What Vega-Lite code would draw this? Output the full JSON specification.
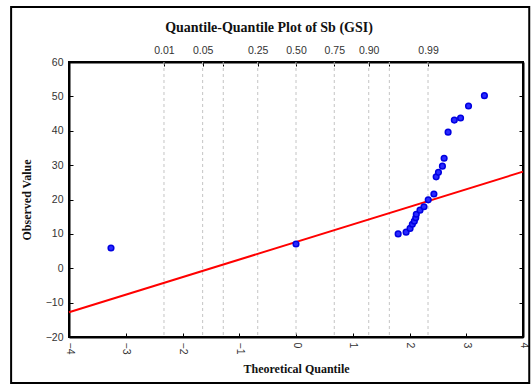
{
  "$schema": "https://vega.github.io/schema/vega-lite/v6.json",
  "autosize": "none",
  "width": 454,
  "height": 275,
  "padding": {"left": 69, "top": 62, "right": 8, "bottom": 48},
  "background": "white",
  "title": {
    "text": "Quantile-Quantile Plot of Sb (GSI)",
    "font": "Liberation Serif",
    "fontSize": 14,
    "fontWeight": "bold",
    "color": "#111",
    "dx": -27,
    "offset": -29
  },
  "config": {
    "view": {"stroke": "black", "strokeWidth": 2},
    "axis": {
      "labelFont": "Liberation Sans",
      "labelFontSize": 10.5,
      "labelColor": "#333",
      "titleFont": "Liberation Serif",
      "titleFontSize": 12,
      "titleFontWeight": "bold",
      "titleColor": "#111",
      "tickColor": "black",
      "domainColor": "black",
      "domainWidth": 2,
      "grid": false
    }
  },
  "resolve": {"axis": {"x": "independent", "y": "independent"}},
  "layer": [
    {
      "data": {"values": [
        {"q": -2.3263, "p": "0.01"},
        {"q": -1.6449, "p": "0.05"},
        {"q": -1.2816, "p": "0.10"},
        {"q": -0.6745, "p": "0.25"},
        {"q": 0, "p": "0.50"},
        {"q": 0.6745, "p": "0.75"},
        {"q": 1.2816, "p": "0.90"},
        {"q": 1.6449, "p": "0.95"},
        {"q": 2.3263, "p": "0.99"}
      ]},
      "mark": {"type": "rule", "color": "#c4c4c4", "strokeWidth": 1, "strokeDash": [3, 3]},
      "encoding": {
        "x": {
          "field": "q", "type": "quantitative",
          "scale": {"domain": [-4, 4], "nice": false, "zero": false},
          "axis": {
            "orient": "top", "title": null,
            "values": [-2.3263, -1.6449, -1.2816, -0.6745, 0, 0.6745, 1.2816, 1.6449, 2.3263],
            "labelExpr": "datum.value < -2 ? '0.01' : datum.value < -1.5 ? '0.05' : datum.value < -1 ? '' : datum.value < -0.5 ? '0.25' : datum.value < 0.5 ? '0.50' : datum.value < 1 ? '0.75' : datum.value < 1.5 ? '0.90' : datum.value < 2 ? '' : '0.99'",
            "tickSize": -4,
            "labelPadding": 11,
            "domain": true
          }
        }
      }
    },
    {
      "data": {"values": [
        {"q": -4, "v": -12.8},
        {"q": 4, "v": 28.1}
      ]},
      "mark": {"type": "line", "color": "#ff0000", "strokeWidth": 2},
      "encoding": {
        "x": {
          "field": "q", "type": "quantitative",
          "scale": {"domain": [-4, 4], "nice": false, "zero": false},
          "axis": {
            "orient": "bottom", "title": "Theoretical Quantile",
            "values": [-4, -3, -2, -1, 0, 1, 2, 3, 4],
            "labelAngle": 90, "labelAlign": "left", "labelBaseline": "middle",
            "tickSize": -4, "labelPadding": 9, "titlePadding": 10
          }
        },
        "y": {
          "field": "v", "type": "quantitative",
          "scale": {"domain": [-20, 60], "nice": false, "zero": false},
          "axis": {
            "orient": "left", "title": "Observed Value",
            "values": [-20, -10, 0, 10, 20, 30, 40, 50, 60],
            "tickSize": -4, "labelPadding": 10, "titlePadding": 12
          }
        }
      }
    },
    {
      "data": {"values": [
        {"q": -3.26, "v": 5.9},
        {"q": 0.0, "v": 7.05},
        {"q": 1.80, "v": 10.0},
        {"q": 1.94, "v": 10.5},
        {"q": 2.01, "v": 11.6},
        {"q": 2.05, "v": 12.8},
        {"q": 2.085, "v": 13.7},
        {"q": 2.11, "v": 14.7},
        {"q": 2.12, "v": 15.7},
        {"q": 2.185, "v": 16.9},
        {"q": 2.255, "v": 17.9},
        {"q": 2.33, "v": 19.9},
        {"q": 2.43, "v": 21.6},
        {"q": 2.47, "v": 26.6},
        {"q": 2.51, "v": 27.9},
        {"q": 2.58, "v": 29.7},
        {"q": 2.61, "v": 32.0},
        {"q": 2.68, "v": 39.6},
        {"q": 2.79, "v": 43.1},
        {"q": 2.90, "v": 43.7},
        {"q": 3.04, "v": 47.2},
        {"q": 3.32, "v": 50.2}
      ]},
      "mark": {"type": "point", "filled": true, "shape": "circle", "size": 32, "fill": "#2a2aff", "stroke": "#0000e0", "strokeWidth": 1.5, "opacity": 1, "fillOpacity": 1},
      "encoding": {
        "x": {"field": "q", "type": "quantitative", "scale": {"domain": [-4, 4], "nice": false, "zero": false}, "axis": null},
        "y": {
          "field": "v", "type": "quantitative",
          "scale": {"domain": [-20, 60], "nice": false, "zero": false},
          "axis": {
            "orient": "right", "title": null, "labels": false,
            "values": [-20, -10, 0, 10, 20, 30, 40, 50, 60],
            "tickSize": -4
          }
        }
      }
    },
    {
      "data": {"values": [{}]},
      "mark": {"type": "rect", "fill": null, "fillOpacity": 0, "stroke": "black", "strokeWidth": 2, "clip": false},
      "encoding": {
        "x": {"datum": -5.02, "type": "quantitative", "scale": {"domain": [-4, 4], "nice": false, "zero": false}, "axis": null},
        "x2": {"datum": 4.11},
        "y": {"datum": 76.0, "type": "quantitative", "scale": {"domain": [-20, 60], "nice": false, "zero": false}, "axis": null},
        "y2": {"datum": -33.4}
      }
    }
  ]
}
